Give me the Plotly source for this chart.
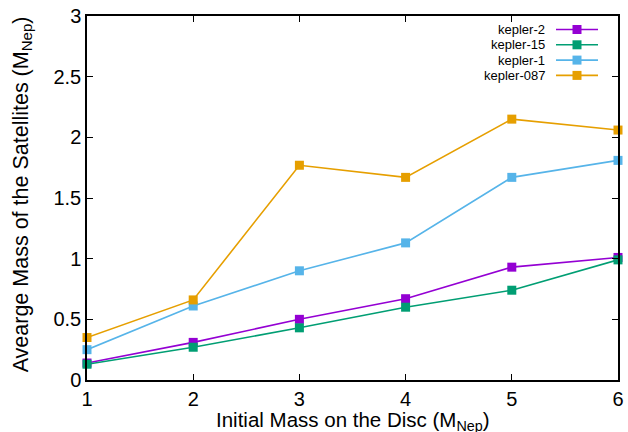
import plotly.graph_objects as go

x_vals = [1, 2, 3, 4, 5, 6]
series_names = ["kepler-2", "kepler-15", "kepler-1", "kepler-087"]
kepler_2 = [0.14, 0.31, 0.50, 0.67, 0.93, 1.01]
kepler_15 = [0.13, 0.27, 0.43, 0.60, 0.74, 0.99]
kepler_1 = [0.25, 0.61, 0.90, 1.13, 1.67, 1.81]
kepler_087 = [0.35, 0.66, 1.77, 1.67, 2.15, 2.06]
colors = ["#9400d3", "#009e73", "#56b4e9", "#e69f00"]
y_ticks = [0, 0.5, 1, 1.5, 2, 2.5, 3]
y_ticklabels = ["0", "0.5", "1", "1.5", "2", "2.5", "3"]
x_title = "Initial Mass on the Disc (M<sub>Nep</sub>)"
y_title = "Avearge Mass of the Satellites (M<sub>Nep</sub>)"

FONT = "Liberation Sans, Arial, sans-serif"
W, H = 628, 432
ML, MR, MT, MB = 87, 10, 16, 52
PW, PH = W - ML - MR, H - MT - MB

fig = go.Figure()
all_series = [kepler_2, kepler_15, kepler_1, kepler_087]
for name, ys, c in zip(series_names, all_series, colors):
    fig.add_trace(go.Scatter(
        x=x_vals, y=ys, mode="lines+markers", name=name,
        line=dict(color=c, width=1.6),
        marker=dict(symbol="square", size=9, color=c),
        showlegend=False, cliponaxis=False,
    ))

# manual gnuplot-style legend (text left of sample)
text_right = (547 - ML) / PW
line_x0 = (556 - ML) / PW
line_x1 = (598 - ML) / PW
mark_x = (577 - ML) / PW
row_px = [29.5, 44.8, 60.1, 75.4]
annotations = []
shapes = []
for name, c, ypx in zip(series_names, colors, row_px):
    yp = (H - MB - ypx) / PH
    annotations.append(dict(
        x=text_right, y=yp, xref="paper", yref="paper", text=name,
        showarrow=False, xanchor="right", yanchor="middle",
        font=dict(family=FONT, size=13, color="black"),
    ))
    shapes.append(dict(type="line", xref="paper", yref="paper",
                       x0=line_x0, x1=line_x1, y0=yp, y1=yp,
                       line=dict(color=c, width=1.6)))
    hw = 4.5 / PW
    hh = 4.5 / PH
    shapes.append(dict(type="rect", xref="paper", yref="paper",
                       x0=mark_x - hw, x1=mark_x + hw, y0=yp - hh, y1=yp + hh,
                       fillcolor=c, line=dict(width=0)))

# axis titles
annotations.append(dict(
    x=0.5, y=0, xref="paper", yref="paper", text=x_title, showarrow=False,
    xanchor="center", yanchor="top", yshift=-27, borderpad=0,
    font=dict(family=FONT, size=20.5, color="black"),
))
annotations.append(dict(
    x=0, y=0.51, xref="paper", yref="paper", text=y_title, showarrow=False,
    textangle=-90, xanchor="center", yanchor="middle", xshift=-65,
    font=dict(family=FONT, size=21.5, color="black"),
))

fig.update_layout(
    width=W, height=H,
    margin=dict(l=ML, r=MR, t=MT, b=MB, pad=0),
    paper_bgcolor="white", plot_bgcolor="white",
    font=dict(family=FONT, size=20, color="black"),
    annotations=annotations, shapes=shapes,
    xaxis=dict(
        range=[1, 6], tickvals=x_vals, ticktext=[str(v) for v in x_vals],
        showgrid=False, zeroline=False, automargin=False,
        showline=True, linecolor="black", linewidth=1.5, mirror="ticks",
        ticks="inside", ticklen=6, tickcolor="black", tickwidth=1,
        tickfont=dict(size=20),
    ),
    yaxis=dict(
        range=[0, 3], tickvals=y_ticks, ticktext=y_ticklabels,
        showgrid=False, zeroline=False, automargin=False,
        showline=True, linecolor="black", linewidth=1.5, mirror="ticks",
        ticks="inside", ticklen=6, tickcolor="black", tickwidth=1,
        tickfont=dict(size=20),
    ),
)

fig.write_html("out.html", config={"displayModeBar": False},
               post_script="document.body.style.margin='0px';document.body.style.overflow='hidden';")
